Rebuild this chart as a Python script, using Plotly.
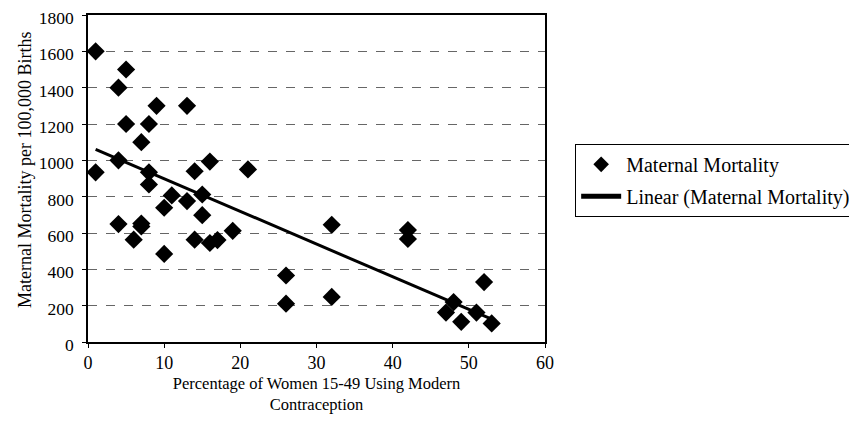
import numpy as np
import plotly.graph_objects as go

pct_contraception = [1, 5, 4, 9, 13, 5, 8, 7, 4, 16, 1, 8, 14, 21,
                     8, 11, 13, 15, 10, 15, 4, 7, 7, 6, 10, 14, 16, 17, 19,
                     32, 42, 42, 26, 26, 32, 47, 48, 49, 51, 52, 53]
maternal_mortality = [1600, 1500, 1400, 1300, 1300, 1200, 1200, 1100, 1000, 993, 934, 934, 940, 950,
                      867, 807, 776, 812, 739, 698, 649, 652, 636, 563, 485, 563, 545, 561, 612,
                      645, 616, 567, 366, 211, 248, 162, 220, 111, 162, 330, 102]

x = np.array(pct_contraception, dtype=float)
y = np.array(maternal_mortality, dtype=float)
slope, intercept = np.polyfit(x, y, 1)
xl = np.array([x.min(), x.max()])
yl = slope * xl + intercept

font = "Liberation Serif, Times New Roman, serif"

fig = go.Figure()
fig.add_trace(go.Scatter(
    x=pct_contraception, y=maternal_mortality, mode="markers",
    name="Maternal Mortality", legendgroup="a",
    marker=dict(symbol="diamond", size=14, color="black"),
))
fig.add_trace(go.Scatter(
    x=xl, y=yl, mode="lines", name="Linear (Maternal Mortality)", legendgroup="b",
    line=dict(color="black", width=3),
))

# page body has an 8px default margin, so the figure is shrunk by 8px
fig.update_layout(
    width=849, height=440,
    margin=dict(l=80, r=312, t=7, b=106, autoexpand=False),
    paper_bgcolor="white", plot_bgcolor="white",
    font=dict(family=font, size=18, color="black"),
    showlegend=True,
    legend=dict(x=1.066, y=0.606, xanchor="left", yanchor="top",
                bordercolor="black", borderwidth=1, bgcolor="white",
                font=dict(family=font, size=20, color="black"),
                tracegroupgap=3, itemwidth=40, itemsizing="constant"),
    xaxis=dict(range=[0, 60], dtick=10, showgrid=False, zeroline=False,
               showline=True, linecolor="black", linewidth=1.5, mirror=True,
               ticks="outside", ticklen=4, tickcolor="black", automargin=False,
               tickfont=dict(family=font, size=18),
               title=dict(text="Percentage of Women 15-49 Using Modern<br>Contraception",
                          font=dict(family=font, size=16.5), standoff=5)),
    yaxis=dict(range=[0, 1800], dtick=200, showgrid=True, gridcolor="#666666",
               griddash="dash", gridwidth=1, zeroline=False,
               showline=True, linecolor="black", linewidth=1.5, mirror=True,
               ticks="outside", ticklen=4, tickcolor="black", automargin=False,
               ticklabelstandoff=5, ticklabelshift=3, ticklabeloverflow="allow",
               tickfont=dict(family=font, size=17.5)),
    annotations=[dict(text="Maternal Mortality per 100,000 Births",
                      xref="paper", yref="paper", x=-0.138, y=0.526,
                      xanchor="center", yanchor="middle", textangle=-90,
                      showarrow=False, font=dict(family=font, size=18))],
)

fig.write_html("out.html")
